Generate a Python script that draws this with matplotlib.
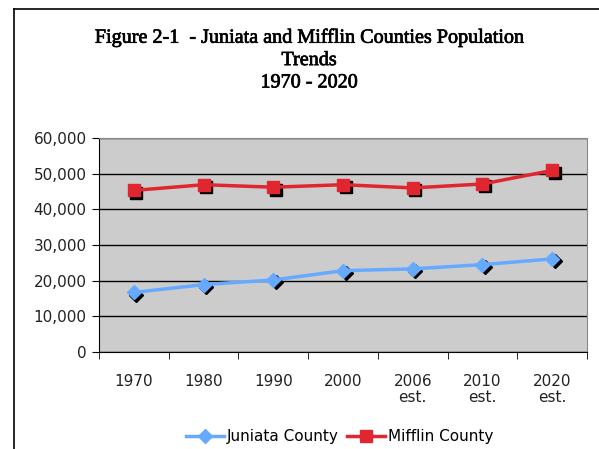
import matplotlib.pyplot as plt
import matplotlib.transforms as mtransforms
import matplotlib.patheffects as pe
from matplotlib.lines import Line2D

# data
years = ["1970", "1980", "1990", "2000", "2006\nest.", "2010\nest.", "2020\nest."]
juniata = [16700, 18900, 20200, 22800, 23300, 24500, 26100]
mifflin = [45300, 46900, 46200, 46900, 46000, 47100, 50900]

fig = plt.figure(figsize=(5.99, 4.49), dpi=100)
ax = fig.add_axes([0.1653, 0.216, 0.8147, 0.4767])

x = list(range(len(years)))
ax.set_facecolor("#cccccc")

# shadows for the markers
shadow = ax.transData + mtransforms.ScaledTranslation(2.5 / 100, -2.5 / 100, fig.dpi_scale_trans)
ax.plot(x, juniata, linestyle="none", marker="D", markersize=7, color="black", transform=shadow, zorder=3)
ax.plot(x, mifflin, linestyle="none", marker="s", markersize=9, color="black", transform=shadow, zorder=3)

ax.plot(x, juniata, color="#66aaff", lw=2.5, marker="D", markersize=7, label="Juniata County", zorder=4)
ax.plot(x, mifflin, color="#e0262f", lw=2.5, marker="s", markersize=9, label="Mifflin County", zorder=4)

ax.set_ylim(0, 60000)
ax.set_xlim(-0.5, 6.5)
ax.set_yticks(range(0, 60001, 10000))
ax.set_yticklabels([f"{v:,}" for v in range(0, 60001, 10000)], fontsize=11, color="#222222")
ax.set_xticks(x)
ax.set_xticklabels(years, fontsize=11, color="#222222", linespacing=1.05)
ax.set_xticks([i - 0.5 for i in range(len(years) + 1)], minor=True)
ax.tick_params(axis="x", which="major", length=0, pad=16)
ax.tick_params(axis="x", which="minor", length=5, direction="out")
ax.tick_params(axis="y", length=5, direction="out", pad=4)
ax.yaxis.grid(True, color="black", lw=1)
ax.set_axisbelow(True)

for side in ["top", "right"]:
    ax.spines[side].set_color("#888888")
for side in ["left", "bottom"]:
    ax.spines[side].set_color("black")

fig.text(0.516, 0.938, "Figure 2-1  - Juniata and Mifflin Counties Population\nTrends\n1970 - 2020",
         ha="center", va="top", fontsize=14.5, family="Liberation Serif", linespacing=1.24,
         path_effects=[pe.withStroke(linewidth=0.5, foreground="black")])

ax.legend(loc="center", bbox_to_anchor=(0.567, 0.028), bbox_transform=fig.transFigure, ncol=2,
          frameon=False, fontsize=11, handlelength=2.5, handletextpad=0.2, columnspacing=0.5)

# outer frame
fig.add_artist(Line2D([0.0234, 0.0234], [0, 0.98], color="black", lw=1.2, transform=fig.transFigure))
fig.add_artist(Line2D([0.0234, 1.0], [0.98, 0.98], color="black", lw=1.2, transform=fig.transFigure))

fig.savefig("out.png", dpi=100)
